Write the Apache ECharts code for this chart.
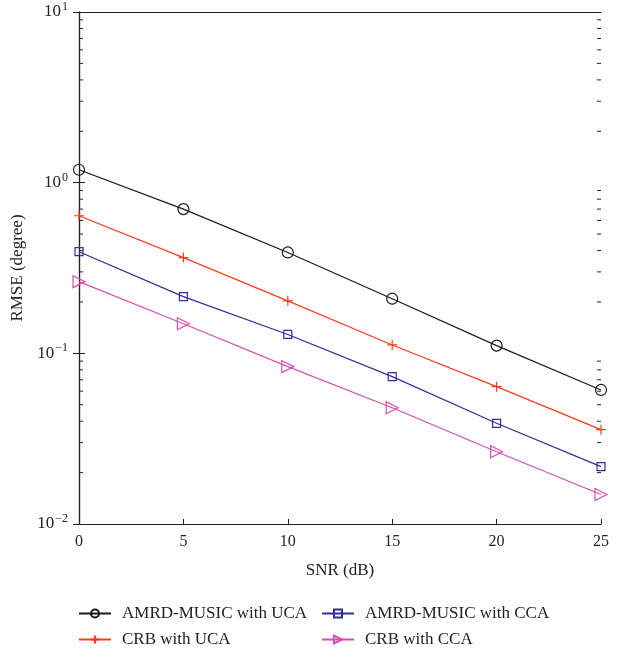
<!DOCTYPE html>
<html><head><meta charset="utf-8">
<script src="https://cdn.jsdelivr.net/npm/echarts@6/dist/echarts.min.js"></script>
<style>html,body{margin:0;padding:0;background:#fff}#c{width:624px;height:654px}</style>
</head><body><div id="c"></div>
<script>
const snr = [0, 5, 10, 15, 20, 25];
const amrdUCA = [1.19, 0.70, 0.39, 0.209, 0.111, 0.061];
const crbUCA = [0.64, 0.364, 0.203, 0.112, 0.0638, 0.0357];
const amrdCCA = [0.394, 0.215, 0.129, 0.073, 0.0389, 0.0217];
const crbCCA = [0.263, 0.149, 0.0836, 0.048, 0.0265, 0.0149];
const names = ['AMRD-MUSIC with UCA', 'CRB with UCA', 'AMRD-MUSIC with CCA', 'CRB with CCA'];
const yExpLabels = {0.01: '−2', 0.1: '−1', 1: '0', 10: '1'};

const font = '"Liberation Serif", "DejaVu Serif", serif';
const minorVals = [];
[0.01, 0.1, 1].forEach(d => { for (let k = 2; k <= 9; k++) minorVals.push(+(d * k).toPrecision(3)); });

const chart = echarts.init(document.getElementById('c'));
function mk(name, data, color, symbol, size, rot) {
  return {
    name, type: 'line', data: snr.map((x, i) => [x, data[i]]),
    symbol, symbolSize: size, symbolRotate: rot || 0, showAllSymbol: true,
    lineStyle: {color, width: 1.2},
    itemStyle: {color: 'rgba(0,0,0,0)', borderColor: color, borderWidth: 1.2},
    emphasis: {disabled: true}, z: 3
  };
}
const minorSeries = {
  type: 'custom', silent: true, z: 4,
  data: minorVals.map(v => [v]),
  renderItem: (params, api) => {
    const v = api.value(0);
    const pl = api.coord([0, v]);
    const pr = api.coord([25, v]);
    return {type: 'group', children: [
      {type: 'line', shape: {x1: pl[0], y1: pl[1], x2: pl[0] + 4, y2: pl[1]}, style: {stroke: '#222', lineWidth: 1}},
      {type: 'line', shape: {x1: pr[0], y1: pr[1], x2: pr[0] - 4, y2: pr[1]}, style: {stroke: '#222', lineWidth: 1}}
    ]};
  }
};
const legendText = {fontFamily: font, fontSize: 17, color: '#222', padding: [0, 0, 0, 6]};
chart.setOption({
  animation: false,
  backgroundColor: '#fff',
  grid: {left: 79, right: 23, top: 12, bottom: 130, show: false},
  xAxis: [{
    type: 'value', min: 0, max: 25, interval: 5,
    axisLine: {onZero: false, lineStyle: {color: '#222', width: 1.2}},
    axisTick: {inside: true, length: 5, lineStyle: {color: '#222'}},
    axisLabel: {color: '#222', fontFamily: font, fontSize: 16, margin: 10},
    splitLine: {show: false},
    name: 'SNR (dB)', nameLocation: 'middle', nameGap: 38,
    nameTextStyle: {color: '#222', fontFamily: font, fontSize: 17}
  }, {
    type: 'value', min: 0, max: 25, interval: 5, position: 'top',
    axisLine: {show: true, lineStyle: {color: '#222', width: 1.2}},
    axisTick: {show: false}, axisLabel: {show: false}, splitLine: {show: false}
  }],
  yAxis: [{
    type: 'log', logBase: 10, min: 0.01, max: 10,
    axisLine: {show: true, lineStyle: {color: '#222', width: 1.2}},
    axisTick: {inside: true, length: 6, lineStyle: {color: '#222'}},
    splitLine: {show: false},
    axisLabel: {
      margin: 11,
      formatter: v => '{b|10}{e|' + (yExpLabels[+v.toPrecision(3)] ?? '') + '}',
      rich: {
        b: {fontFamily: font, fontSize: 17, color: '#222'},
        e: {fontFamily: font, fontSize: 12, color: '#222', verticalAlign: 'bottom', padding: [0, 0, 10, 1]}
      }
    },
    name: 'RMSE (degree)', nameLocation: 'middle', nameGap: 47, nameRotate: 90,
    nameTextStyle: {color: '#222', fontFamily: font, fontSize: 17}
  }, {
    type: 'log', logBase: 10, min: 0.01, max: 10, position: 'right',
    axisLine: {show: true, lineStyle: {color: '#222', width: 1.2}},
    axisTick: {inside: true, length: 6, lineStyle: {color: '#222'}},
    axisLabel: {show: false}, splitLine: {show: false}
  }],
  legend: [{
    data: [names[0], names[1]], orient: 'vertical', left: 78, top: 605, padding: 0,
    itemWidth: 32, itemHeight: 10, itemGap: 9,
    textStyle: legendText
  }, {
    data: [names[2], names[3]], orient: 'vertical', left: 321, top: 605, padding: 0,
    itemWidth: 32, itemHeight: 10, itemGap: 9,
    textStyle: legendText
  }],
  series: [
    mk(names[0], amrdUCA, '#1a1a1a', 'circle', 11),
    mk(names[1], crbUCA, '#ff3a1c', 'path://M5,0L5,10M0,5L10,5', 10),
    mk(names[2], amrdCCA, '#2f2f9c', 'rect', 8),
    mk(names[3], crbCCA, '#d94db5', 'triangle', 12, -90),
    minorSeries
  ]
});
</script></body></html>
